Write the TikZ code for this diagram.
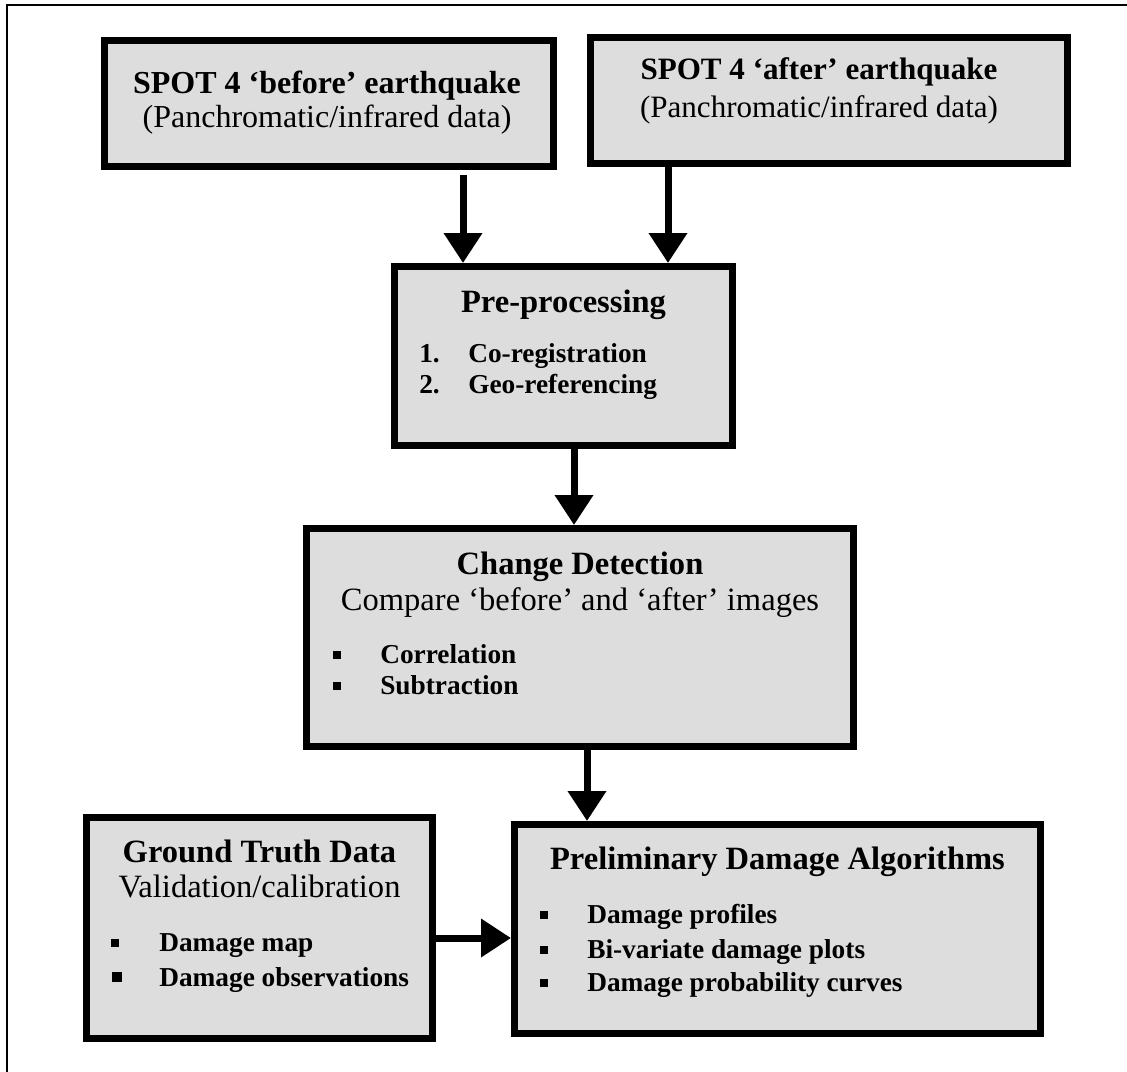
\documentclass[tikz,border=0pt]{standalone}
\usepackage{fontspec}
\setmainfont{Liberation Serif}
\usetikzlibrary{arrows.meta}

\definecolor{boxfill}{RGB}{221,221,221}

\tikzset{
  panel/.style={draw=black, line width=5.25pt, fill=boxfill, rectangle, inner sep=0pt},
  flow/.style={line width=5.25pt, -{Triangle[width=27.75pt,length=22.5pt]}},
  toptxt/.style={inner sep=0pt, anchor=base, font=\fontsize{23.3}{27}\selectfont},
  tophead/.style={inner sep=0pt, anchor=base, font=\fontsize{23.3}{27}\selectfont\bfseries},
  headtxt/.style={inner sep=0pt, anchor=base, font=\fontsize{24.4}{28}\selectfont\bfseries},
  subtxt/.style={inner sep=0pt, anchor=base, font=\fontsize{24.4}{28}\selectfont},
  itemtxt/.style={inner sep=0pt, anchor=base west, font=\fontsize{20.5}{24}\selectfont\bfseries},
  bullet/.style={fill=black, minimum size=5.6pt, inner sep=0pt},
}

\begin{document}
\begin{tikzpicture}[x=0.75pt, y=-0.75pt]
  \useasboundingbox (0,0) rectangle (1127,1071);
  \clip (0,0) rectangle (1127,1071);

  % page frame
  \draw[line width=1.5pt] (7,1100) -- (7,5) -- (1140,5);

  % boxes
  \node[panel, minimum width=336.75pt, minimum height=94.5pt] (before) at (329,103.5) {};
  \node[panel, minimum width=357.75pt, minimum height=94.5pt] (after) at (829,100.5) {};
  \node[panel, minimum width=253.5pt, minimum height=134.25pt] (pre) at (563.5,356) {};
  \node[panel, minimum width=410.25pt, minimum height=163.5pt] (chg) at (580,637.5) {};
  \node[panel, minimum width=259.5pt, minimum height=165.75pt] (gt) at (259.5,928) {};
  \node[panel, minimum width=394.5pt, minimum height=156.75pt] (dmg) at (777.5,929) {};

  % SPOT 4 boxes
  \node[tophead, font=\fontsize{24}{28}\selectfont\bfseries] (b1) at (327,93) {SPOT 4 ‘before’ earthquake};
  \node[toptxt, font=\fontsize{24}{28}\selectfont] (b2) at (327,127) {(Panchromatic/infrared data)};
  \node[tophead] (a1) at (819,79) {SPOT 4 ‘after’ earthquake};
  \node[toptxt] (a2) at (819,117) {(Panchromatic/infrared data)};

  % pre-processing
  \node[headtxt] (p0) at (563.5,312) {Pre-processing};
  \node[itemtxt] (pn1) at (419,362) {1.};
  \node[itemtxt] (p1) at (468,362) {Co-registration};
  \node[itemtxt] (pn2) at (419,393) {2.};
  \node[itemtxt] (p2) at (468,393) {Geo-referencing};

  % change detection
  \node[headtxt] (c0) at (580,574) {Change Detection};
  \node[subtxt] (c1) at (580,610) {Compare ‘before’ and ‘after’ images};
  \node[bullet] (cb1) at (337,655) {};
  \node[itemtxt] (ct1) at (380,663) {Correlation};
  \node[bullet] (cb2) at (337,686) {};
  \node[itemtxt] (ct2) at (380,694) {Subtraction};

  % ground truth
  \node[headtxt] (g0) at (259.5,862) {Ground Truth Data};
  \node[subtxt] (g1) at (259.5,897) {Validation/calibration};
  \node[bullet] (gb1) at (115,943) {};
  \node[itemtxt] (gt1) at (159,951) {Damage map};
  \node[bullet, minimum size=7pt] (gb2) at (117,977) {};
  \node[itemtxt] (gt2) at (159,986) {Damage observations};

  % damage algorithms
  \node[headtxt] (d0) at (777.5,869) {Preliminary Damage Algorithms};
  \node[bullet] (db1) at (544,915) {};
  \node[itemtxt] (dt1) at (587,923) {Damage profiles};
  \node[bullet] (db2) at (544,950) {};
  \node[itemtxt] (dt2) at (587,958) {Bi-variate damage plots};
  \node[bullet] (db3) at (544,983) {};
  \node[itemtxt] (dt3) at (587,991) {Damage probability curves};

  % connector columns
  \coordinate (x1) at (463,0);
  \coordinate (x2) at (668,0);
  \coordinate (x3) at (574,0);
  \coordinate (x4) at (587,0);
  \coordinate (y5) at (0,938);

  \draw[flow, shorten <=3.75pt] (before.south -| x1) -- (pre.north -| x1);
  \draw[flow] (after.south -| x2) -- (pre.north -| x2);
  \draw[flow] (pre.south -| x3) -- (chg.north -| x3);
  \draw[flow] (chg.south -| x4) -- (dmg.north -| x4);
  \draw[flow] (gt.east |- y5) -- (dmg.west |- y5);
\end{tikzpicture}
\end{document}
